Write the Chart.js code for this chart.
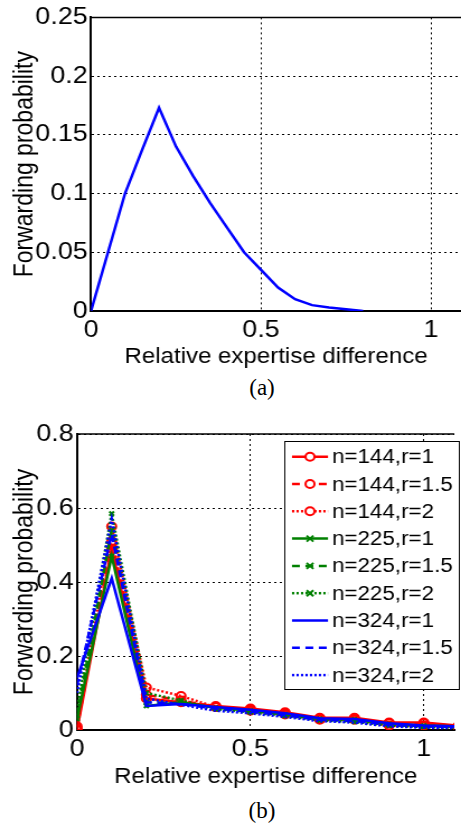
<!DOCTYPE html>
<html>
<head>
<meta charset="utf-8">
<script src="https://cdn.jsdelivr.net/npm/chart.js@4.4.1/dist/chart.umd.min.js"></script>
<style>
  body { margin: 0; background: #fff; width: 461px; height: 827px; position: relative; overflow: hidden; }
  /* the source figure is stretched horizontally, so the canvases are too */
  canvas { position: absolute; left: 0; transform: scaleX(1.119); transform-origin: 0 0; }
  .caption { position: absolute; width: 100px; left: 212px; text-align: center; font: 23px "Liberation Serif", "Times New Roman", serif; color: #000; }
</style>
</head>
<body>
<canvas id="chart-a" width="412" height="370" style="top:0"></canvas>
<div class="caption" style="top:375px">(a)</div>
<canvas id="chart-b" width="412" height="380" style="top:410px"></canvas>
<div class="caption" style="top:798px">(b)</div>
<script>
// (a) single curve
const diffA = [0, 0.05, 0.1, 0.15, 0.2, 0.25, 0.3, 0.35, 0.4, 0.45, 0.5, 0.55, 0.6, 0.65, 0.7, 0.75, 0.8];
const probA = [0, 0.05, 0.1, 0.137, 0.173, 0.14, 0.115, 0.092, 0.071, 0.05, 0.035, 0.02, 0.01, 0.005, 0.003, 0.0015, 0];
const yTicksA = [0, 0.05, 0.1, 0.15, 0.2, 0.25];

// (b) nine settings
const diffB = [0, 0.1, 0.2, 0.3, 0.4, 0.5, 0.6, 0.7, 0.8, 0.9, 1.0, 1.1];
const n144r1 = [0, 0.49, 0.085, 0.075, 0.065, 0.058, 0.048, 0.033, 0.033, 0.02, 0.02, 0.012];
const n144r15 = [0.005, 0.51, 0.095, 0.08, 0.062, 0.055, 0.045, 0.03, 0.03, 0.018, 0.018, 0.01];
const n144r2 = [0.01, 0.55, 0.115, 0.092, 0.062, 0.052, 0.042, 0.028, 0.028, 0.012, 0.012, 0.008];
const n225r1 = [0.03, 0.47, 0.065, 0.075, 0.06, 0.052, 0.042, 0.03, 0.028, 0.016, 0.012, 0.01];
const n225r15 = [0.04, 0.54, 0.075, 0.072, 0.058, 0.05, 0.04, 0.028, 0.025, 0.014, 0.01, 0.008];
const n225r2 = [0.055, 0.585, 0.1, 0.08, 0.056, 0.048, 0.038, 0.026, 0.022, 0.012, 0.008, 0.006];
const n324r1 = [0.14, 0.41, 0.065, 0.07, 0.062, 0.055, 0.045, 0.032, 0.03, 0.018, 0.012, 0.01];
const n324r15 = [0.12, 0.53, 0.075, 0.07, 0.058, 0.05, 0.04, 0.028, 0.025, 0.014, 0.01, 0.008];
const n324r2 = [0.1, 0.57, 0.085, 0.068, 0.052, 0.045, 0.035, 0.024, 0.02, 0.01, 0.006, 0.005];
const seriesLabels = ["n=144,r=1", "n=144,r=1.5", "n=144,r=2", "n=225,r=1", "n=225,r=1.5", "n=225,r=2", "n=324,r=1", "n=324,r=1.5", "n=324,r=2"];
const yTicksB = [0, 0.2, 0.4, 0.6, 0.8];
const xTicks = [0, 0.5, 1];

const SX = 1.119; // horizontal stretch of the figure
const TICK_FONT = { family: "'Liberation Sans', Arial, sans-serif", size: 24 };
const X_TITLE_FONT = { family: "'Liberation Sans', Arial, sans-serif", size: 21.5 };
const Y_TITLE_FONT = { family: "'Liberation Sans', Arial, sans-serif", size: 23 };
const DASHED = [7, 5];
const DOTTED = [2, 2];

function toPoints(xs, ys) {
  return xs.map((x, i) => ({ x, y: ys[i] }));
}

// top edge of the axes box (MATLAB style)
const topBorder = {
  id: "topBorder",
  afterDraw(chart) {
    const { ctx, chartArea } = chart;
    ctx.save();
    ctx.strokeStyle = "#000";
    ctx.lineWidth = 1.5;
    ctx.beginPath();
    ctx.moveTo(chartArea.left, chartArea.top);
    ctx.lineTo(chartArea.right, chartArea.top);
    ctx.stroke();
    ctx.restore();
  }
};

const boxLegend = {
  id: "boxLegend",
  afterDraw(chart) {
    if (chart.canvas.id !== "chart-b") return;
    const ctx = chart.ctx;
    const top = 441 - 410;
    const left = 284 / SX;
    const lineStart = 292 / SX;
    const lineEnd = 328 / SX;
    const mid = (lineStart + lineEnd) / 2;
    ctx.save();
    ctx.fillStyle = "#fff";
    ctx.fillRect(left, top, 175 / SX, 248);
    ctx.strokeStyle = "#000";
    ctx.lineWidth = 1;
    ctx.strokeRect(Math.round(left) + 0.5, top + 0.5, Math.round(175 / SX), 248);
    chart.data.datasets.forEach((ds, i) => {
      const y = top + 15.7 + i * 27.3;
      ctx.strokeStyle = ds.borderColor;
      ctx.lineWidth = 2.5;
      ctx.setLineDash(ds.borderDash || []);
      ctx.beginPath();
      ctx.moveTo(lineStart, y);
      ctx.lineTo(lineEnd, y);
      ctx.stroke();
      ctx.setLineDash([]);
      if (ds.pointRadius > 0) {
        ctx.lineWidth = 2;
        ctx.beginPath();
        if (ds.pointStyle === "circle") {
          ctx.fillStyle = "#fff";
          ctx.arc(mid, y, 4, 0, Math.PI * 2);
          ctx.fill();
        } else {
          ctx.moveTo(mid - 3, y - 3); ctx.lineTo(mid + 3, y + 3);
          ctx.moveTo(mid + 3, y - 3); ctx.lineTo(mid - 3, y + 3);
        }
        ctx.stroke();
      }
      ctx.fillStyle = "#000";
      ctx.font = "20px 'Liberation Sans', Arial, sans-serif";
      ctx.textBaseline = "middle";
      ctx.textAlign = "left";
      ctx.fillText(seriesLabels[i], 332 / SX, y + 1);
    });
    ctx.restore();
  }
};

function axes(yTicks, yMax, yWidth, xHeight, xTitlePad) {
  return {
    x: {
      type: "linear",
      min: 0,
      max: 1.088,
      afterBuildTicks: (s) => { s.ticks = xTicks.map((v) => ({ value: v })); },
      afterFit: (s) => { s.height = xHeight; },
      grid: { color: "#000", lineWidth: 1, drawTicks: false },
      border: { color: "#000", width: 2, dash: [2, 3] },
      ticks: { color: "#000", font: TICK_FONT, padding: 5, maxRotation: 0, callback: (v) => String(v) },
      title: { display: true, text: "Relative expertise difference", color: "#000", font: X_TITLE_FONT, padding: { top: xTitlePad, bottom: 0 } }
    },
    y: {
      min: 0,
      max: yMax,
      afterBuildTicks: (s) => { s.ticks = yTicks.map((v) => ({ value: v })); },
      afterFit: (s) => { s.width = yWidth; },
      grid: { color: "#000", lineWidth: 1, drawTicks: false },
      border: { color: "#000", width: 2, dash: [2, 3] },
      ticks: { color: "#000", font: TICK_FONT, padding: 3, callback: (v) => String(v) },
      title: { display: true, text: "Forwarding probability", color: "#000", font: Y_TITLE_FONT, padding: { top: 9, bottom: 0 } }
    }
  };
}

const common = {
  responsive: false,
  devicePixelRatio: 1,
  animation: false,
  plugins: { legend: { display: false }, tooltip: { enabled: false } }
};

new Chart(document.querySelector("#chart-a"), {
  type: "line",
  data: {
    datasets: [
      {
        label: "Forwarding probability",
        data: toPoints(diffA, probA),
        borderColor: "#0000ff",
        borderWidth: 2.5,
        pointRadius: 0,
        tension: 0
      }
    ]
  },
  options: {
    ...common,
    layout: { padding: { top: 15, left: 0, right: 0, bottom: 0 } },
    scales: axes(yTicksA, 0.25, 91 / SX, 59, 2)
  },
  plugins: [topBorder]
});

const seriesB = [n144r1, n144r15, n144r2, n225r1, n225r15, n225r2, n324r1, n324r15, n324r2];
const colorsB = ["#ff0000", "#ff0000", "#ff0000", "#008000", "#008000", "#008000", "#0000ff", "#0000ff", "#0000ff"];
const dashesB = [[], DASHED, DOTTED];

new Chart(document.querySelector("#chart-b"), {
  type: "line",
  data: {
    datasets: seriesB.map((values, i) => {
      const group = Math.floor(i / 3);
      return {
        label: seriesLabels[i],
        data: toPoints(diffB, values),
        borderColor: colorsB[i],
        borderWidth: 2.5,
        borderDash: dashesB[i % 3],
        pointStyle: group === 0 ? "circle" : "crossRot",
        pointRadius: group === 2 ? 0 : group === 0 ? 4 : 3,
        pointBorderWidth: 2,
        pointBorderColor: colorsB[i],
        pointBackgroundColor: "rgba(0,0,0,0)",
        tension: 0,
        order: 9 - i
      };
    })
  },
  options: {
    ...common,
    layout: { padding: { top: 24, left: 0, right: 0, bottom: 0 } },
    scales: axes(yTicksB, 0.8, 77 / SX, 60, 6)
  },
  plugins: [topBorder, boxLegend]
});
</script>
</body>
</html>
